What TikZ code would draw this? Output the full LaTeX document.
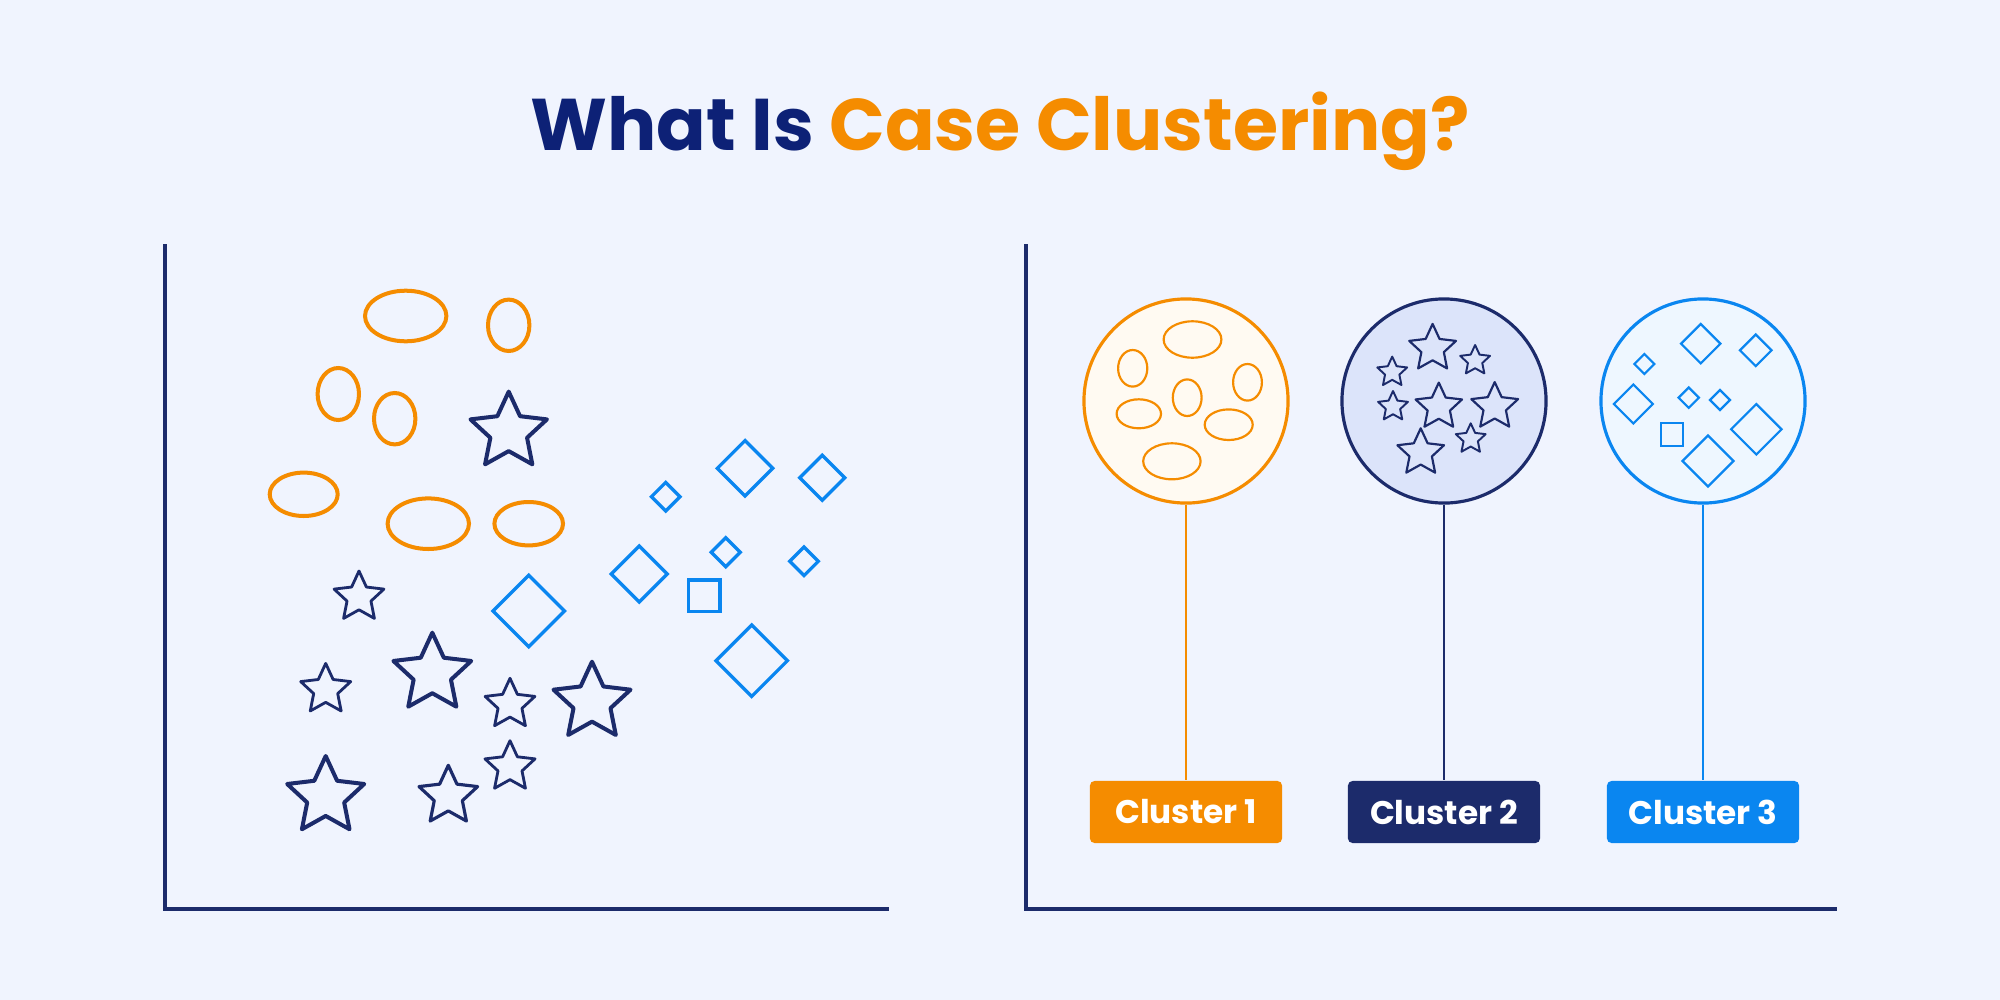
\documentclass[tikz,border=0pt]{standalone}
\usepackage{fontspec}
\setmainfont{Poppins}
\definecolor{bg}{HTML}{F0F4FE}
\definecolor{navy}{HTML}{1C2B6B}
\definecolor{titlenavy}{HTML}{0D2176}
\definecolor{orng}{HTML}{F58C00}
\definecolor{blu}{HTML}{0A86F0}
\definecolor{cream}{HTML}{FFFAF2}
\definecolor{lav}{HTML}{DCE4FA}
\definecolor{ice}{HTML}{EEF7FF}
\newcommand{\starat}[4]{\draw[navy, line width=#4, line join=round, shift={(#1,#2)}]
  (-90:#3) -- (-54:{0.48*#3}) -- (-18:#3) -- (18:{0.48*#3}) -- (54:#3) -- (90:{0.48*#3})
  -- (126:#3) -- (162:{0.48*#3}) -- (198:#3) -- (234:{0.48*#3}) -- cycle;}
\newcommand{\diamat}[4]{\draw[blu, line width=#4, shift={(#1,#2)}]
  (0,-#3) -- (#3,0) -- (0,#3) -- (-#3,0) -- cycle;}
\newcommand{\ellat}[5]{\draw[orng, line width=#5] (#1,#2) ellipse [x radius=#3, y radius=#4];}
\tikzset{
  axisline/.style={navy, line width=1.15pt},
  bubble/.style={circle, minimum size=2.04cm, inner sep=0pt, line width=0.9pt},
  stem/.style={line width=0.75pt},
  tag/.style={rounded corners=1.3pt, minimum width=1.92cm, minimum height=0.62cm, inner sep=0pt,
    text=white, font=\fontsize{9.3pt}{11pt}\selectfont\bfseries}
}
\begin{document}
\begin{tikzpicture}[x=0.01cm, y=-0.01cm]
\fill[bg] (0,0) rectangle (2000,1000);
\useasboundingbox (0,0) rectangle (2000,1000);

% title
\node[anchor=base, inner sep=0pt, font=\fontsize{20.8pt}{24pt}\selectfont\bfseries] (title) at (1000,150)
  {\textcolor{titlenavy}{What Is} \textcolor{orng}{Case Clustering?}};

% left axes
\coordinate (ly) at (165,244);
\coordinate (lo) at (165,909);
\coordinate (lx) at (889,909);
\draw[axisline] (ly) -- (lo) -- (lx);

% right axes
\coordinate (ry) at (1026,244);
\coordinate (ro) at (1026,909);
\coordinate (rx) at (1837,909);
\draw[axisline] (ry) -- (ro) -- (rx);

% left: ellipses
\ellat{405.7}{316}{40.7}{25.3}{1.14pt}
\ellat{508.7}{325.3}{20.7}{25.7}{1.14pt}
\ellat{338.3}{394}{20.7}{26}{1.14pt}
\ellat{394.7}{418.7}{20.7}{25.7}{1.14pt}
\ellat{303.7}{494.3}{34}{21.7}{1.14pt}
\ellat{428.3}{523.7}{40.7}{25.3}{1.14pt}
\ellat{528.7}{523.7}{34.3}{21.7}{1.14pt}

% left: stars
\starat{508.7}{431.8}{40.2}{1.14pt}
\starat{359}{597.2}{26.2}{0.8pt}
\starat{432.3}{673.6}{40.9}{1.14pt}
\starat{325.7}{689.7}{26.3}{0.8pt}
\starat{510}{704.5}{26.2}{0.8pt}
\starat{592}{702.2}{40.5}{1.14pt}
\starat{510}{767}{26.3}{0.8pt}
\starat{325.7}{796.5}{40.5}{1.14pt}
\starat{448.3}{796.1}{30.8}{0.9pt}

% left: diamonds
\diamat{745}{468.3}{27.7}{0.95pt}
\diamat{822.3}{477.7}{22.5}{0.95pt}
\diamat{665.7}{496.7}{14.3}{0.95pt}
\diamat{725.7}{552.3}{14.5}{0.95pt}
\diamat{804}{561.3}{14.3}{0.95pt}
\diamat{639.3}{574}{28}{0.95pt}
\diamat{751.7}{660.7}{35.7}{0.95pt}
\diamat{528.7}{611}{35.8}{0.95pt}
\draw[blu, line width=0.95pt] (688.3,580) rectangle (720,611.7);

% right: bubbles
\node[bubble, draw=orng, fill=cream] (c1) at (1186,401) {};
\node[bubble, draw=navy, fill=lav] (c2) at (1444,401) {};
\node[bubble, draw=blu, fill=ice] (c3) at (1703,401) {};

% right: tags
\node[tag, fill=orng] (t1) at (1186,812) {Cluster 1};
\node[tag, fill=navy] (t2) at (1444,812) {Cluster 2};
\node[tag, fill=blu] (t3) at (1703,812) {Cluster 3};

\draw[stem, orng] (c1.south) -- (t1.north);
\draw[stem, navy] (c2.south) -- (t2.north);
\draw[stem, blu] (c3.south) -- (t3.north);

% cluster 1 contents
\ellat{1192.5}{339.5}{28.9}{18.2}{0.62pt}
\ellat{1132.7}{368.3}{14.6}{18.3}{0.62pt}
\ellat{1247.5}{382.3}{14.4}{18.3}{0.62pt}
\ellat{1187.2}{397.7}{14.4}{18.3}{0.62pt}
\ellat{1138.8}{413.8}{22.2}{14.5}{0.62pt}
\ellat{1228.7}{424.7}{24}{15.3}{0.62pt}
\ellat{1171.9}{461.3}{28.7}{18}{0.62pt}

% cluster 2 contents
\starat{1432.6}{348.5}{24.6}{0.62pt}
\starat{1475.1}{360.7}{15.7}{0.55pt}
\starat{1392.2}{372.3}{15.7}{0.55pt}
\starat{1393}{406.7}{15.7}{0.55pt}
\starat{1438.8}{407}{24.4}{0.62pt}
\starat{1494.7}{406.7}{24.6}{0.62pt}
\starat{1420.7}{452.8}{24.5}{0.62pt}
\starat{1470.7}{439}{15.7}{0.55pt}

% cluster 3 contents
\diamat{1700.7}{343.7}{19.7}{0.62pt}
\diamat{1755.7}{350.3}{15.8}{0.62pt}
\diamat{1644.3}{364}{10}{0.62pt}
\diamat{1633.3}{404}{19.5}{0.62pt}
\diamat{1688.7}{397.7}{10.2}{0.62pt}
\diamat{1720}{400}{10}{0.62pt}
\diamat{1756.3}{429.3}{25.2}{0.62pt}
\diamat{1708}{461}{25.5}{0.62pt}
\draw[blu, line width=0.62pt] (1660.7,423) rectangle (1683.3,445.7);
\end{tikzpicture}
\end{document}
